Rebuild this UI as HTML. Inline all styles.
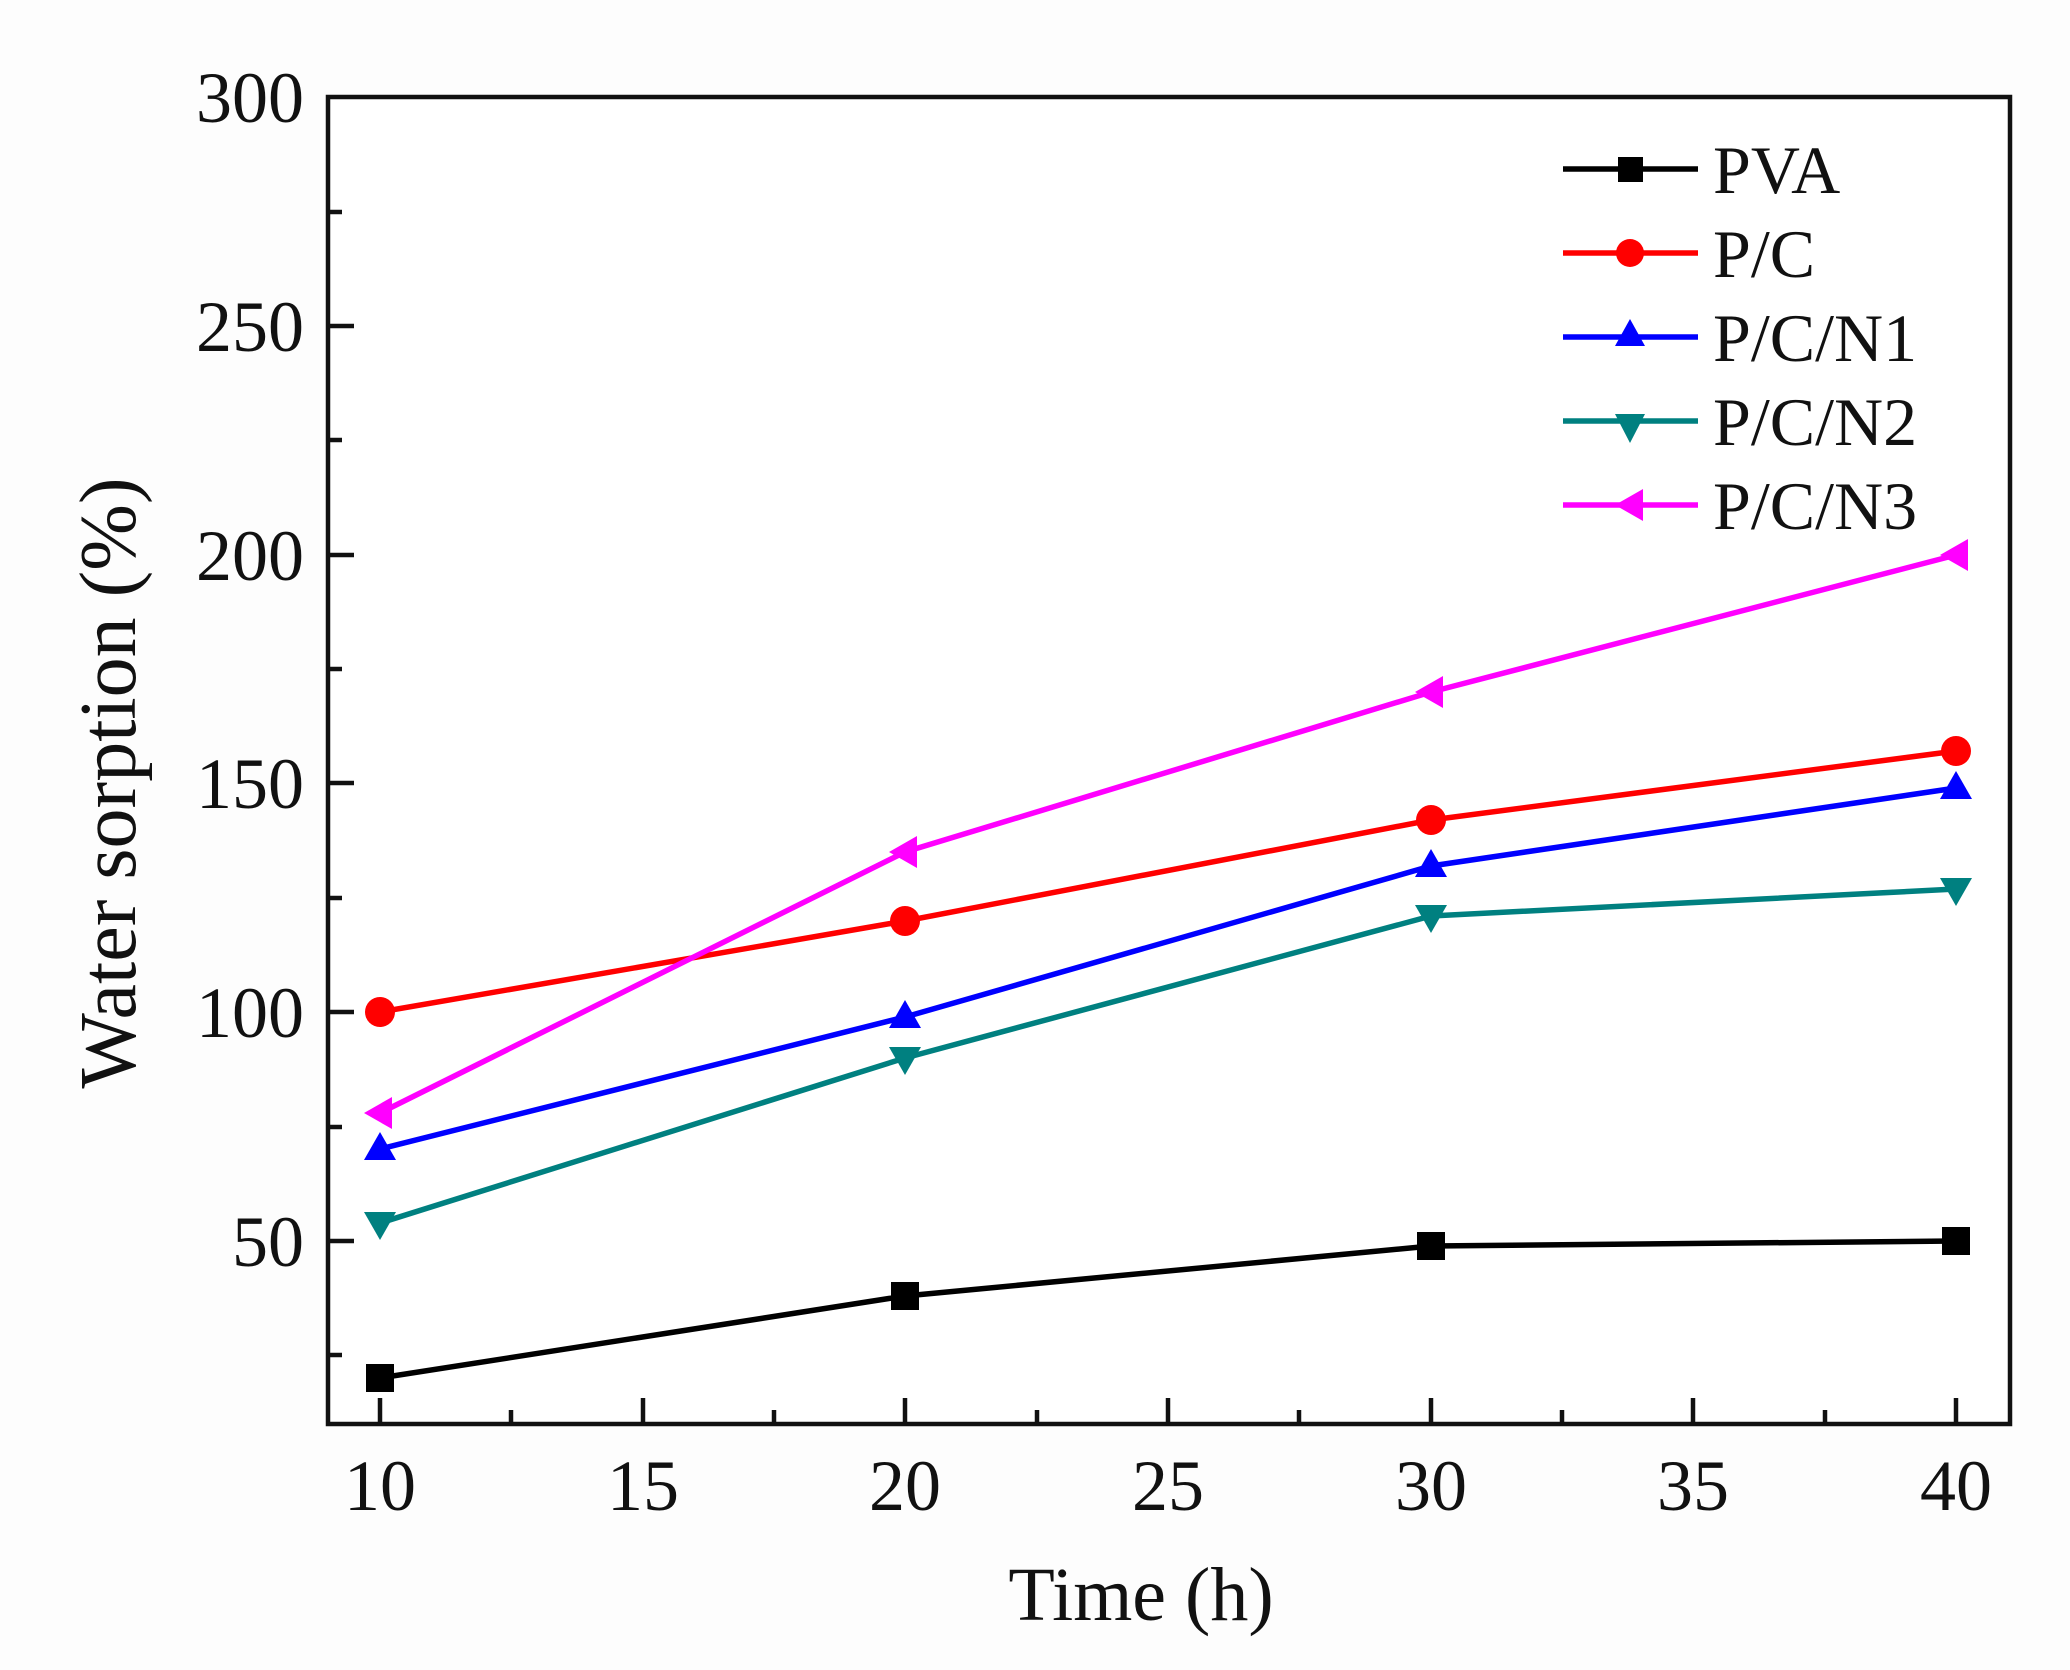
<!DOCTYPE html>
<html><head><meta charset="utf-8"><style>
html,body{margin:0;padding:0;background:#fff}
svg{display:block}
text{font-family:"Liberation Serif",serif;fill:#111}
</style></head><body>
<svg width="2070" height="1670" viewBox="0 0 2070 1670" xmlns="http://www.w3.org/2000/svg">
<rect width="2070" height="1670" fill="#fdfdfd"/>
<rect x="328" y="97" width="1682" height="1327" fill="#fff" stroke="#111" stroke-width="4.5"/>
<g stroke="#111" stroke-width="4.5">
<line x1="380" y1="1424" x2="380" y2="1398"/><line x1="643" y1="1424" x2="643" y2="1398"/><line x1="905" y1="1424" x2="905" y2="1398"/><line x1="1168" y1="1424" x2="1168" y2="1398"/><line x1="1431" y1="1424" x2="1431" y2="1398"/><line x1="1693" y1="1424" x2="1693" y2="1398"/><line x1="1956" y1="1424" x2="1956" y2="1398"/>
<line x1="511" y1="1424" x2="511" y2="1410"/><line x1="774" y1="1424" x2="774" y2="1410"/><line x1="1037" y1="1424" x2="1037" y2="1410"/><line x1="1299" y1="1424" x2="1299" y2="1410"/><line x1="1562" y1="1424" x2="1562" y2="1410"/><line x1="1825" y1="1424" x2="1825" y2="1410"/>
<line x1="328" y1="1241" x2="354" y2="1241"/><line x1="328" y1="1012" x2="354" y2="1012"/><line x1="328" y1="783" x2="354" y2="783"/><line x1="328" y1="555" x2="354" y2="555"/><line x1="328" y1="326" x2="354" y2="326"/>
<line x1="328" y1="1355" x2="342" y2="1355"/><line x1="328" y1="1127" x2="342" y2="1127"/><line x1="328" y1="898" x2="342" y2="898"/><line x1="328" y1="669" x2="342" y2="669"/><line x1="328" y1="440" x2="342" y2="440"/><line x1="328" y1="212" x2="342" y2="212"/>
</g>
<g font-size="72" text-anchor="end">
<text x="304" y="1266">50</text><text x="304" y="1037">100</text><text x="304" y="808">150</text><text x="304" y="580">200</text><text x="304" y="351">250</text><text x="304" y="122">300</text>
</g>
<g font-size="72" text-anchor="middle">
<text x="380" y="1510">10</text><text x="643" y="1510">15</text><text x="905" y="1510">20</text><text x="1168" y="1510">25</text><text x="1431" y="1510">30</text><text x="1693" y="1510">35</text><text x="1956" y="1510">40</text>
</g>
<text x="1141" y="1620" font-size="76" text-anchor="middle">Time (h)</text>
<text transform="translate(135,783) rotate(-90)" font-size="80" text-anchor="middle">Water sorption (%)</text>
<g fill="none" stroke-width="5.5">
<polyline stroke="#000" points="380,1378 905,1296 1431,1246 1956,1241"/>
<polyline stroke="#f00" points="380,1012 905,921 1431,820 1956,751"/>
<polyline stroke="#00f" points="380,1149 905,1017 1431,866 1956,788"/>
<polyline stroke="#008080" points="380,1223 905,1058 1431,916 1956,889"/>
<polyline stroke="#f0f" points="380,1113 905,852 1431,692 1956,555"/>
</g>
<g fill="#000"><rect x="366" y="1364" width="28" height="28"/><rect x="891" y="1282" width="28" height="28"/><rect x="1417" y="1232" width="28" height="28"/><rect x="1942" y="1227" width="28" height="28"/></g>
<g fill="#f00"><circle cx="380" cy="1012" r="15"/><circle cx="905" cy="921" r="15"/><circle cx="1431" cy="820" r="15"/><circle cx="1956" cy="751" r="15"/></g>
<g fill="#00f"><polygon points="380,1132 364,1160 396,1160"/><polygon points="905,1000 889,1028 921,1028"/><polygon points="1431,849 1415,877 1447,877"/><polygon points="1956,771 1940,799 1972,799"/></g>
<g fill="#008080"><polygon points="380,1240 364,1212 396,1212"/><polygon points="905,1075 889,1047 921,1047"/><polygon points="1431,933 1415,905 1447,905"/><polygon points="1956,906 1940,878 1972,878"/></g>
<g fill="#f0f"><polygon points="364,1113 392,1097 392,1129"/><polygon points="889,852 917,836 917,868"/><polygon points="1415,692 1443,676 1443,708"/><polygon points="1940,555 1968,539 1968,571"/></g>
<g stroke-width="5.5">
<line x1="1563" y1="169" x2="1698" y2="169" stroke="#000"/>
<line x1="1563" y1="253" x2="1698" y2="253" stroke="#f00"/>
<line x1="1563" y1="337" x2="1698" y2="337" stroke="#00f"/>
<line x1="1563" y1="421" x2="1698" y2="421" stroke="#008080"/>
<line x1="1563" y1="505" x2="1698" y2="505" stroke="#f0f"/>
</g>
<rect x="1618" y="157" width="25" height="25" fill="#000"/>
<circle cx="1630" cy="253" r="14" fill="#f00"/>
<polygon points="1630,319 1615,346 1645,346" fill="#00f"/>
<polygon points="1630,443 1615,414 1645,414" fill="#008080"/>
<polygon points="1615,505 1643,489 1643,521" fill="#f0f"/>
<g font-size="68">
<text x="1713" y="193">PVA</text>
<text x="1713" y="277">P/C</text>
<text x="1713" y="361">P/C/N1</text>
<text x="1713" y="445">P/C/N2</text>
<text x="1713" y="529">P/C/N3</text>
</g>
</svg>
</body></html>
